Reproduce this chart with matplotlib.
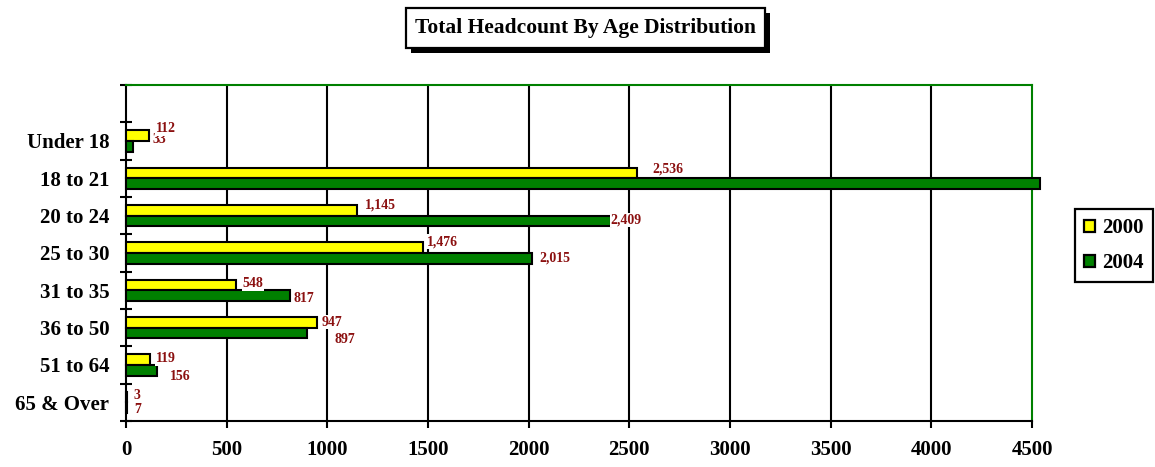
import matplotlib
matplotlib.use("Agg")
import matplotlib.pyplot as plt
from matplotlib.patches import Rectangle, Patch

categories = ["Under 18", "18 to 21", "20 to 24", "25 to 30", "31 to 35", "36 to 50", "51 to 64", "65 & Over"]
values_2000 = [112, 2536, 1145, 1476, 548, 947, 119, 3]
values_2004 = [33, 4540, 2409, 2015, 817, 897, 156, 7]
labels_2000 = ["112", "2,536", "1,145", "1,476", "548", "947", "119", "3"]
labels_2004 = ["33", "", "2,409", "2,015", "817", "897", "156", "7"]
series_names = ["2000", "2004"]
xticks = [0, 500, 1000, 1500, 2000, 2500, 3000, 3500, 4000, 4500]

# label offsets in pixels (dx to text center, dy up)
off_2000 = [(17, 7), (31, 4), (24, 5), (19, 6), (17, 1), (15, 0), (16, 1), (10, 1)]
off_2004 = [(27, 7), (0, 0), (15, 1), (23, 0), (13, -3), (38, -6), (23, -6), (10, -2)]

W, H = 1155, 467
fig = plt.figure(figsize=(W / 100, H / 100), dpi=100)
serif = "Liberation Serif"
plt.rcParams["font.family"] = serif

ax = fig.add_axes([126 / W, (H - 421) / H, (1032 - 126) / W, (421 - 85) / H])

n = len(categories)
ypos = [n - 1 - i for i in range(n)]
bh = 0.29
yellow = "#FFFF00"
green = "#008000"
red = "#8B1010"
lw = 1.5

ax.set_axisbelow(True)
for x in xticks[1:-1]:
    ax.axvline(x, color="black", lw=lw, zorder=0)

for i in range(n):
    ax.barh(ypos[i] + bh / 2, values_2000[i], height=bh, color=yellow, edgecolor="black", lw=lw, zorder=3, clip_on=False)
    ax.barh(ypos[i] - bh / 2, values_2004[i], height=bh, color=green, edgecolor="black", lw=lw, zorder=3, clip_on=False)

for i in range(n):
    if labels_2004[i]:
        dx, dy = off_2004[i]
        ax.annotate(labels_2004[i], xy=(values_2004[i], ypos[i] - bh / 2), xytext=(dx, dy),
                    textcoords="offset pixels", ha="center", va="center", color=red,
                    fontsize=10, fontweight="bold", zorder=5,
                    bbox=dict(boxstyle="square,pad=0.05", fc="white", ec="none"))
for i in range(n):
    if labels_2000[i]:
        dx, dy = off_2000[i]
        ax.annotate(labels_2000[i], xy=(values_2000[i], ypos[i] + bh / 2), xytext=(dx, dy),
                    textcoords="offset pixels", ha="center", va="center", color=red,
                    fontsize=10, fontweight="bold", zorder=6,
                    bbox=dict(boxstyle="square,pad=0.05", fc="white", ec="none"))

ax.set_xlim(0, 4500)
ax.set_ylim(-0.5, n + 0.5)
ax.set_xticks(xticks)
ax.set_xticklabels([str(t) for t in xticks], fontsize=15, fontweight="bold")
ax.set_yticks(ypos)
ax.set_yticklabels(categories, fontsize=15, fontweight="bold")
ax.set_yticks([y + 0.5 for y in range(-1, n + 1)], minor=True)
ax.tick_params(axis="y", which="major", length=0, pad=12)
ax.tick_params(axis="y", which="minor", length=8, width=lw, direction="inout")
ax.tick_params(axis="x", which="major", length=5, width=lw, direction="out", pad=9)

for s in ["left", "bottom"]:
    ax.spines[s].set_color("black")
    ax.spines[s].set_linewidth(lw)
for s in ["top", "right"]:
    ax.spines[s].set_color(green)
    ax.spines[s].set_linewidth(lw)

# title box with shadow
def frect(x0, y0, x1, y1, **kw):
    r = Rectangle((x0 / W, 1 - y1 / H), (x1 - x0) / W, (y1 - y0) / H, transform=fig.transFigure, **kw)
    fig.add_artist(r)

frect(411, 13, 770, 53, fc="black", ec="black", lw=0)
frect(406, 8, 765, 48, fc="white", ec="black", lw=1.6)
fig.text(585.5 / W, 1 - 28.5 / H, "Total Headcount By Age Distribution", ha="center", va="center",
         fontsize=15.5, fontweight="bold")

# legend
handles = [Patch(fc=yellow, ec="black", lw=1.6), Patch(fc=green, ec="black", lw=1.6)]
leg = fig.legend(handles, series_names, loc="upper left", bbox_to_anchor=(1075 / W, 1 - 209 / H),
                 prop=dict(family=serif, size=15, weight="bold"), handlelength=0.5, handleheight=0.5,
                 handletextpad=0.35, labelspacing=0.7, borderpad=0.45, borderaxespad=0, fancybox=False,
                 framealpha=1, edgecolor="black")
leg.get_frame().set_linewidth(1.6)

fig.savefig("out.png", dpi=100)
